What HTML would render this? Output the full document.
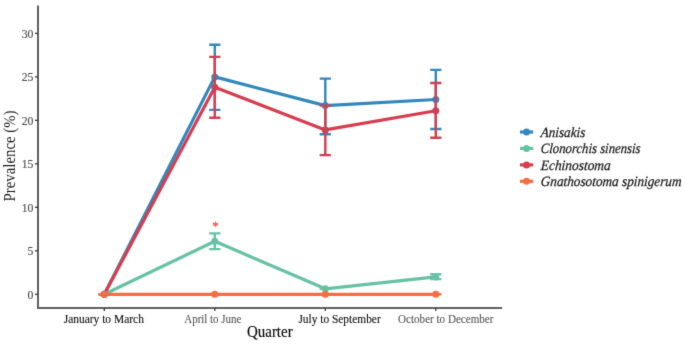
<!DOCTYPE html>
<html><head><meta charset="utf-8"><style>
html,body{margin:0;padding:0;background:#fff;width:685px;height:345px;overflow:hidden}
svg{display:block}
text{font-family:"Liberation Serif","Times New Roman",serif}
</style></head><body>
<svg width="685" height="345" viewBox="0 0 685 345">
<defs><filter id="bl" x="0" y="0" width="685" height="345" filterUnits="userSpaceOnUse" color-interpolation-filters="sRGB"><feConvolveMatrix order="3" kernelMatrix="0.0113 0.0838 0.0113 0.0838 0.6193 0.0838 0.0113 0.0838 0.0113" edgeMode="duplicate" preserveAlpha="true"/></filter></defs>
<g filter="url(#bl)">
<rect width="685" height="345" fill="#fff"/>
<g stroke="#606060" stroke-width="2" fill="none">
<line x1="38.0" y1="5.5" x2="38.0" y2="309.0"/>
<line x1="37.0" y1="308.0" x2="502.2" y2="308.0"/>
<line x1="35.0" y1="294.30" x2="38.0" y2="294.30" stroke-width="1.3" stroke="#3a3a3a"/>
<line x1="35.0" y1="250.81" x2="38.0" y2="250.81" stroke-width="1.3" stroke="#3a3a3a"/>
<line x1="35.0" y1="207.33" x2="38.0" y2="207.33" stroke-width="1.3" stroke="#3a3a3a"/>
<line x1="35.0" y1="163.85" x2="38.0" y2="163.85" stroke-width="1.3" stroke="#3a3a3a"/>
<line x1="35.0" y1="120.36" x2="38.0" y2="120.36" stroke-width="1.3" stroke="#3a3a3a"/>
<line x1="35.0" y1="76.88" x2="38.0" y2="76.88" stroke-width="1.3" stroke="#3a3a3a"/>
<line x1="35.0" y1="33.39" x2="38.0" y2="33.39" stroke-width="1.3" stroke="#3a3a3a"/>
<line x1="104.3" y1="308.0" x2="104.3" y2="311.0" stroke-width="1.3" stroke="#3a3a3a"/>
<line x1="214.8" y1="308.0" x2="214.8" y2="311.0" stroke-width="1.3" stroke="#3a3a3a"/>
<line x1="325.3" y1="308.0" x2="325.3" y2="311.0" stroke-width="1.3" stroke="#3a3a3a"/>
<line x1="435.8" y1="308.0" x2="435.8" y2="311.0" stroke-width="1.3" stroke="#3a3a3a"/>
</g>
<g fill="#4d4d4d" stroke="#4d4d4d" stroke-width="0.15" font-size="12.8" text-anchor="end">
<text transform="translate(33.4,298.70) scale(0.92,1)">0</text>
<text transform="translate(33.4,255.22) scale(0.92,1)">5</text>
<text transform="translate(33.4,211.73) scale(0.92,1)">10</text>
<text transform="translate(33.4,168.25) scale(0.92,1)">15</text>
<text transform="translate(33.4,124.76) scale(0.92,1)">20</text>
<text transform="translate(33.4,81.28) scale(0.92,1)">25</text>
<text transform="translate(33.4,37.79) scale(0.92,1)">30</text>
</g>
<g font-size="12">
<text x="63.7" y="322.8" textLength="80.2" lengthAdjust="spacingAndGlyphs" fill="#111" stroke="#111" stroke-width="0.12">January to March</text>
<text x="184.3" y="322.8" textLength="57.0" lengthAdjust="spacingAndGlyphs" fill="#555" stroke="#555" stroke-width="0.1">April to June</text>
<text x="298.4" y="322.8" textLength="82.3" lengthAdjust="spacingAndGlyphs" fill="#111" stroke="#111" stroke-width="0.12">July to September</text>
<text x="398.1" y="322.8" textLength="95.3" lengthAdjust="spacingAndGlyphs" fill="#555" stroke="#555" stroke-width="0.1">October to December</text>
</g>
<g fill="#0a0a0a" stroke="#0a0a0a" stroke-width="0.15" font-size="16">
<text x="247" y="336.6" textLength="45.6" lengthAdjust="spacingAndGlyphs">Quarter</text>
<text transform="translate(14.6,201.5) rotate(-90)" textLength="91" lengthAdjust="spacingAndGlyphs" stroke-width="0" fill="#1a1a1a">Prevalence (%)</text>
</g>
<path d="M104.30,294.30 L214.80,76.88 L325.30,105.58 L435.80,99.49" stroke="#3288BD" stroke-width="3.2" fill="none" stroke-linejoin="round"/>
<path d="M104.30,294.30 L214.80,241.25 L325.30,288.82 L435.80,276.91" stroke="#66C2A5" stroke-width="3.2" fill="none" stroke-linejoin="round"/>
<path d="M104.30,294.30 L214.80,87.31 L325.30,129.93 L435.80,110.79" stroke="#D53E4F" stroke-width="3.2" fill="none" stroke-linejoin="round"/>
<path d="M104.30,294.30 L214.80,294.30 L325.30,294.30 L435.80,294.30" stroke="#F46D43" stroke-width="3.2" fill="none" stroke-linejoin="round"/>
<circle cx="104.30" cy="294.30" r="3.5" fill="#3288BD"/>
<circle cx="214.80" cy="76.88" r="3.5" fill="#3288BD"/>
<circle cx="325.30" cy="105.58" r="3.5" fill="#3288BD"/>
<circle cx="435.80" cy="99.49" r="3.5" fill="#3288BD"/>
<circle cx="104.30" cy="294.30" r="3.5" fill="#66C2A5"/>
<circle cx="214.80" cy="241.25" r="3.5" fill="#66C2A5"/>
<circle cx="325.30" cy="288.82" r="3.5" fill="#66C2A5"/>
<circle cx="435.80" cy="276.91" r="3.5" fill="#66C2A5"/>
<circle cx="104.30" cy="294.30" r="3.5" fill="#D53E4F"/>
<circle cx="214.80" cy="87.31" r="3.5" fill="#D53E4F"/>
<circle cx="325.30" cy="129.93" r="3.5" fill="#D53E4F"/>
<circle cx="435.80" cy="110.79" r="3.5" fill="#D53E4F"/>
<circle cx="104.30" cy="294.30" r="3.5" fill="#F46D43"/>
<circle cx="214.80" cy="294.30" r="3.5" fill="#F46D43"/>
<circle cx="325.30" cy="294.30" r="3.5" fill="#F46D43"/>
<circle cx="435.80" cy="294.30" r="3.5" fill="#F46D43"/>
<path d="M98.70,294.30H109.90M104.30,294.30V294.30M98.70,294.30H109.90" stroke="#3288BD" stroke-width="2.4" fill="none"/>
<path d="M209.20,44.70H220.40M214.80,44.70V109.92M209.20,109.92H220.40" stroke="#3288BD" stroke-width="2.4" fill="none"/>
<path d="M319.70,78.61H330.90M325.30,78.61V134.28M319.70,134.28H330.90" stroke="#3288BD" stroke-width="2.4" fill="none"/>
<path d="M430.20,69.92H441.40M435.80,69.92V129.06M430.20,129.06H441.40" stroke="#3288BD" stroke-width="2.4" fill="none"/>
<path d="M98.70,294.30H109.90M104.30,294.30V294.30M98.70,294.30H109.90" stroke="#66C2A5" stroke-width="2.4" fill="none"/>
<path d="M209.20,233.42H220.40M214.80,233.42V249.08M209.20,249.08H220.40" stroke="#66C2A5" stroke-width="2.4" fill="none"/>
<path d="M319.70,288.82H330.90M325.30,288.82V288.82M319.70,288.82H330.90" stroke="#66C2A5" stroke-width="2.4" fill="none"/>
<path d="M430.20,274.30H441.40M435.80,274.30V279.08M430.20,279.08H441.40" stroke="#66C2A5" stroke-width="2.4" fill="none"/>
<path d="M98.70,294.30H109.90M104.30,294.30V294.30M98.70,294.30H109.90" stroke="#D53E4F" stroke-width="2.4" fill="none"/>
<path d="M209.20,56.87H220.40M214.80,56.87V117.75M209.20,117.75H220.40" stroke="#D53E4F" stroke-width="2.4" fill="none"/>
<path d="M319.70,105.58H330.90M325.30,105.58V155.15M319.70,155.15H330.90" stroke="#D53E4F" stroke-width="2.4" fill="none"/>
<path d="M430.20,82.96H441.40M435.80,82.96V137.75M430.20,137.75H441.40" stroke="#D53E4F" stroke-width="2.4" fill="none"/>
<path d="M98.70,294.30H109.90M104.30,294.30V294.30M98.70,294.30H109.90" stroke="#F46D43" stroke-width="2.4" fill="none"/>
<path d="M209.20,294.30H220.40M214.80,294.30V294.30M209.20,294.30H220.40" stroke="#F46D43" stroke-width="2.4" fill="none"/>
<path d="M319.70,294.30H330.90M325.30,294.30V294.30M319.70,294.30H330.90" stroke="#F46D43" stroke-width="2.4" fill="none"/>
<path d="M430.20,294.30H441.40M435.80,294.30V294.30M430.20,294.30H441.40" stroke="#F46D43" stroke-width="2.4" fill="none"/>
<text x="215.5" y="230.3" font-size="13" text-anchor="middle" fill="#EE4B45" stroke="#EE4B45" stroke-width="0.3">*</text>
<line x1="520" y1="132.0" x2="533.2" y2="132.0" stroke="#3288BD" stroke-width="3.2"/>
<circle cx="526.5" cy="132.0" r="3.5" fill="#3288BD"/>
<line x1="520" y1="148.4" x2="533.2" y2="148.4" stroke="#66C2A5" stroke-width="3.2"/>
<circle cx="526.5" cy="148.4" r="3.5" fill="#66C2A5"/>
<line x1="520" y1="164.9" x2="533.2" y2="164.9" stroke="#D53E4F" stroke-width="3.2"/>
<circle cx="526.5" cy="164.9" r="3.5" fill="#D53E4F"/>
<line x1="520" y1="181.3" x2="533.2" y2="181.3" stroke="#F46D43" stroke-width="3.2"/>
<circle cx="526.5" cy="181.3" r="3.5" fill="#F46D43"/>
<text transform="translate(540.5,136.6) skewX(-4)" font-size="14.2" font-style="italic" fill="#1a1a1a" stroke="#1a1a1a" stroke-width="0.25" textLength="44.5" lengthAdjust="spacingAndGlyphs">Anisakis</text>
<text transform="translate(540.5,153.0) skewX(-4)" font-size="14.2" font-style="italic" fill="#1a1a1a" stroke="#1a1a1a" stroke-width="0.25" textLength="99.8" lengthAdjust="spacingAndGlyphs">Clonorchis sinensis</text>
<text transform="translate(540.5,169.5) skewX(-4)" font-size="14.2" font-style="italic" fill="#1a1a1a" stroke="#1a1a1a" stroke-width="0.25" textLength="70.0" lengthAdjust="spacingAndGlyphs">Echinostoma</text>
<text transform="translate(540.5,185.9) skewX(-4)" font-size="14.2" font-style="italic" fill="#1a1a1a" stroke="#1a1a1a" stroke-width="0.25" textLength="140.8" lengthAdjust="spacingAndGlyphs">Gnathosotoma spinigerum</text>
</g></svg></body></html>
